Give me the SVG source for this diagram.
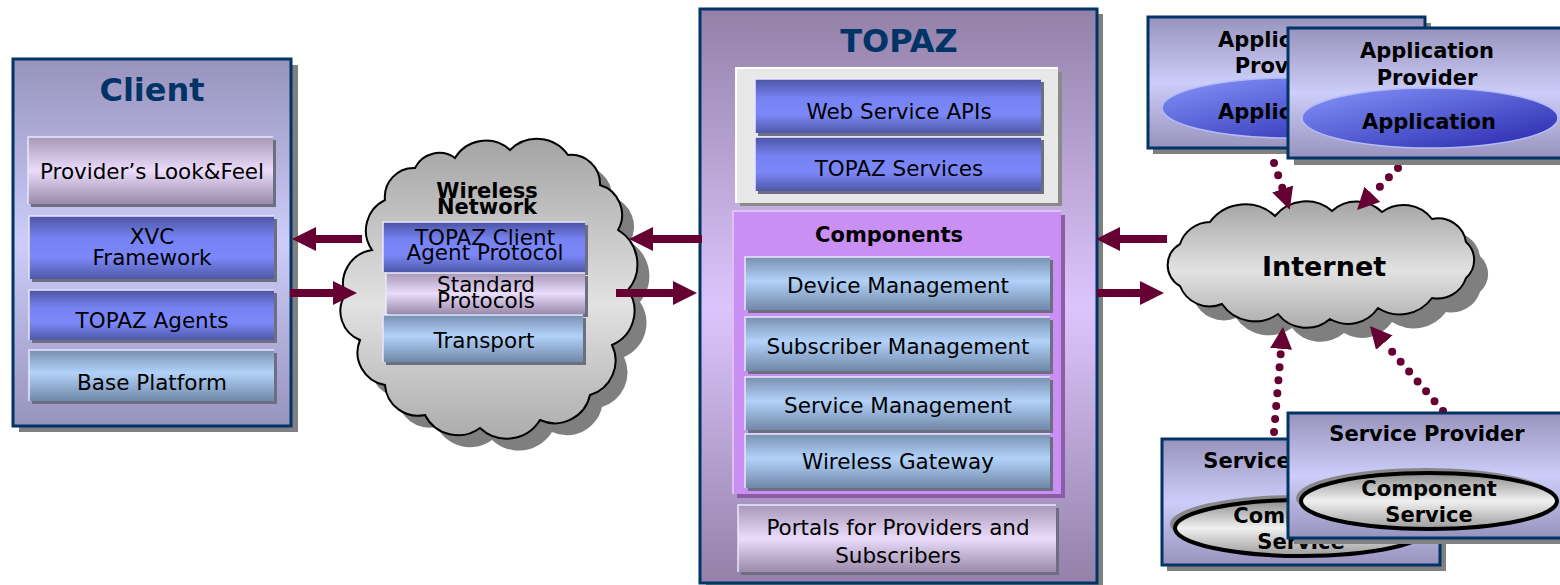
<svg xmlns="http://www.w3.org/2000/svg" width="1560" height="585" viewBox="0 0 1560 585">
<defs>
<linearGradient id="gBox" x1="0" y1="0" x2="0" y2="1"><stop offset="0" stop-color="#9893bd"/><stop offset="0.5" stop-color="#cccdf9"/><stop offset="1" stop-color="#9893bd"/></linearGradient>
<linearGradient id="gTopaz" x1="0" y1="0" x2="0" y2="1"><stop offset="0" stop-color="#9381a9"/><stop offset="0.52" stop-color="#dcc5fc"/><stop offset="1" stop-color="#9381a9"/></linearGradient>
<linearGradient id="gBlue" x1="0" y1="0" x2="0" y2="1"><stop offset="0" stop-color="#4c54a2"/><stop offset="0.35" stop-color="#7682f2"/><stop offset="0.65" stop-color="#7c88fa"/><stop offset="1" stop-color="#4e58a6"/></linearGradient>
<linearGradient id="gMauve" x1="0" y1="0" x2="0" y2="1"><stop offset="0" stop-color="#a797b8"/><stop offset="0.5" stop-color="#eadcfa"/><stop offset="1" stop-color="#9a8aab"/></linearGradient>
<linearGradient id="gLight" x1="0" y1="0" x2="0" y2="1"><stop offset="0" stop-color="#7890b0"/><stop offset="0.45" stop-color="#b2d2fa"/><stop offset="1" stop-color="#7088a8"/></linearGradient>
<linearGradient id="gCloud" x1="0" y1="0" x2="0" y2="1"><stop offset="0" stop-color="#a4a4a4"/><stop offset="0.55" stop-color="#e2e2e2"/><stop offset="1" stop-color="#acacac"/></linearGradient>
<linearGradient id="gApp" x1="0" y1="0" x2="1" y2="1"><stop offset="0" stop-color="#8696fa"/><stop offset="1" stop-color="#2626ac"/></linearGradient>
<linearGradient id="gComp" x1="0" y1="0" x2="0" y2="1"><stop offset="0" stop-color="#8c8c8c"/><stop offset="0.5" stop-color="#f0f0f0"/><stop offset="1" stop-color="#9c9c9c"/></linearGradient>
<marker id="ah" viewBox="0 0 24 24" refX="4" refY="12" markerWidth="24" markerHeight="24" markerUnits="userSpaceOnUse" orient="auto"><path d="M0,0 L24,12 L0,24 z" fill="#660033"/></marker>
<marker id="dh" viewBox="0 0 22 22" refX="0" refY="11" markerWidth="22" markerHeight="22" markerUnits="userSpaceOnUse" orient="auto"><path d="M0,0 L22,11 L0,22 z" fill="#660033"/></marker>
<path id="wcloud" d="M372,250 A34,34 0 0 1 385,200 A29,29 0 0 1 415,168 A27,27 0 0 1 455,158 A36,36 0 0 1 510,150 A38,38 0 0 1 568,155 A29,29 0 0 1 600,185 A31,31 0 0 1 618,230 A40,40 0 0 1 628,290 A37,37 0 0 1 612,345 A36,36 0 0 1 590,395 A36,36 0 0 1 540,420 A39,39 0 0 1 480,428 A37,37 0 0 1 425,415 A33,33 0 0 1 385,385 A33,33 0 0 1 360,340 A31,31 0 0 1 345,295 A34,34 0 0 1 372,250 Z"/>
<path id="icloud" d="M1180,244 A32,32 0 0 1 1210,222 A44,44 0 0 1 1275,216 A40,40 0 0 1 1332,211 A36,36 0 0 1 1382,212 A36,36 0 0 1 1432,219 A28,28 0 0 1 1466,242 A24,24 0 0 1 1466,278 A30,30 0 0 1 1432,298 A40,40 0 0 1 1378,308 A36,36 0 0 1 1330,319 A36,36 0 0 1 1278,314 A40,40 0 0 1 1222,304 A32,32 0 0 1 1180,286 A24,24 0 0 1 1180,244 Z"/>
</defs>
<style>
.t{font-family:"DejaVu Sans",Verdana,sans-serif;font-size:21.5px;fill:#000;text-anchor:middle}
.b{font-weight:bold;font-size:21px}
.ttl{font-weight:bold;font-size:32px;fill:#003366}
.big{font-size:27px}
.outer{stroke:#003366;stroke-width:3}
.sh{fill:#808080}
.bsh{fill:#6e6e82}
.hl{fill:none;stroke:#e8e8ff;stroke-width:1.5}
.arr{stroke:#660033;stroke-width:8;fill:none;marker-end:url(#ah)}
.dot{stroke:#660033;stroke-width:8;fill:none;stroke-dasharray:0 13;stroke-linecap:round;marker-end:url(#dh)}
</style>
<rect width="1560" height="585" fill="#ffffff"/>

<g id="client">
<rect class="sh" x="19" y="65" width="279" height="367"/>
<rect class="outer" x="13" y="59" width="278" height="367" fill="url(#gBox)"/>
<text class="t ttl" x="152" y="101">Client</text>
<g id="client-lookfeel"><rect class="bsh" x="31" y="140" width="245" height="67"/><rect x="28" y="137" width="245" height="67" fill="url(#gMauve)"/><path class="hl" d="M28,204 V137 H273"/><text class="t" x="152" y="179">Provider’s Look&amp;Feel</text></g>
<g id="client-xvc"><rect class="bsh" x="32" y="219" width="245" height="63"/><rect x="29" y="216" width="245" height="63" fill="url(#gBlue)"/><path class="hl" d="M29,279 V216 H274" stroke="#a8b0f8"/><text class="t" x="152" y="244">XVC</text><text class="t" x="152" y="265">Framework</text></g>
<g id="client-agents"><rect class="bsh" x="32" y="293" width="245" height="50"/><rect x="29" y="290" width="245" height="50" fill="url(#gBlue)"/><path class="hl" d="M29,340 V290 H274"/><text class="t" x="152" y="328">TOPAZ Agents</text></g>
<g id="client-base"><rect class="bsh" x="32" y="353" width="245" height="51"/><rect x="29" y="350" width="245" height="51" fill="url(#gLight)"/><path class="hl" d="M29,401 V350 H274"/><text class="t" x="152" y="390">Base Platform</text></g>
</g>

<g id="wireless">
<use href="#wcloud" transform="translate(12,12)" fill="#7f7f7f"/>
<use href="#wcloud" fill="url(#gCloud)" stroke="#000" stroke-width="2"/>
<text class="t b" x="487" y="198">Wireless</text>
<text class="t b" x="487" y="214">Network</text>
<g id="w-agent"><rect class="bsh" x="386" y="225" width="202" height="50"/><rect x="383" y="222" width="202" height="50" fill="url(#gBlue)"/><path class="hl" d="M383,272 V222 H585" stroke="#a8b0f8"/><text class="t" x="485" y="245">TOPAZ Client</text><text class="t" x="485" y="260">Agent Protocol</text></g>
<g id="w-std"><rect class="bsh" x="389" y="276" width="199" height="41"/><rect x="386" y="273" width="199" height="41" fill="url(#gMauve)"/><path class="hl" d="M386,314 V273 H585"/><text class="t" x="486" y="292">Standard</text><text class="t" x="486" y="308">Protocols</text></g>
<g id="w-transport"><rect class="bsh" x="386" y="318" width="200" height="47"/><rect x="383" y="315" width="200" height="47" fill="url(#gLight)"/><path class="hl" d="M383,362 V315 H583"/><text class="t" x="484" y="348">Transport</text></g>
</g>

<g id="topaz">
<rect class="sh" x="706" y="14" width="397" height="575"/>
<rect class="outer" x="700" y="9" width="397" height="574" fill="url(#gTopaz)"/>
<text class="t ttl" x="899" y="52">TOPAZ</text>
<g id="topaz-api-box"><rect x="740" y="72" width="322" height="134" fill="#8a8a8a"/><rect x="736" y="68" width="322" height="135" fill="#e8e8e8"/><path d="M736,203 V68 H1058" fill="none" stroke="#ffffff" stroke-width="2"/></g>
<g id="topaz-ws"><rect class="bsh" x="758" y="82" width="286" height="54"/><rect x="755" y="79" width="286" height="54" fill="url(#gBlue)"/><path class="hl" d="M755,133 V79 H1041" stroke="#a8b0f8"/><text class="t" x="899" y="119">Web Service APIs</text></g>
<g id="topaz-svc"><rect class="bsh" x="758" y="140" width="286" height="54"/><rect x="755" y="137" width="286" height="54" fill="url(#gBlue)"/><path class="hl" d="M755,191 V137 H1041" stroke="#a8b0f8"/><text class="t" x="899" y="176">TOPAZ Services</text></g>
<g id="topaz-components"><rect x="737" y="215" width="328" height="283" fill="#8c5ca8"/><rect x="733" y="211" width="328" height="283" fill="#c98ff3"/><path d="M733,494 V211 H1061" fill="none" stroke="#e0c0fc" stroke-width="2"/><text class="t b" x="889" y="242">Components</text></g>
<g id="topaz-device"><rect class="bsh" x="748" y="260" width="305" height="53"/><rect x="745" y="257" width="305" height="53" fill="url(#gLight)"/><path class="hl" d="M745,310 V257 H1050"/><text class="t" x="898" y="293">Device Management</text></g>
<g id="topaz-subscriber"><rect class="bsh" x="748" y="320" width="305" height="54"/><rect x="745" y="317" width="305" height="54" fill="url(#gLight)"/><path class="hl" d="M745,371 V317 H1050"/><text class="t" x="898" y="354">Subscriber Management</text></g>
<g id="topaz-service"><rect class="bsh" x="748" y="380" width="305" height="53"/><rect x="745" y="377" width="305" height="53" fill="url(#gLight)"/><path class="hl" d="M745,430 V377 H1050"/><text class="t" x="898" y="413">Service Management</text></g>
<g id="topaz-gateway"><rect class="bsh" x="748" y="437" width="305" height="54"/><rect x="745" y="434" width="305" height="54" fill="url(#gLight)"/><path class="hl" d="M745,488 V434 H1050"/><text class="t" x="898" y="469">Wireless Gateway</text></g>
<g id="topaz-portals"><rect class="bsh" x="741" y="508" width="318" height="67"/><rect x="738" y="505" width="318" height="67" fill="url(#gMauve)"/><path class="hl" d="M738,572 V505 H1056" stroke="#ffffff"/><text class="t" x="898" y="535">Portals for Providers and</text><text class="t" x="898" y="563">Subscribers</text></g>
</g>

<g id="internet">
<use href="#icloud" transform="translate(14,14)" fill="#7f7f7f"/>
<use href="#icloud" fill="url(#gCloud)" stroke="#000" stroke-width="2"/>
<text class="t b big" x="1324" y="276">Internet</text>
</g>

<g id="connectors">
<line class="arr" x1="362" y1="239" x2="312" y2="239"/>
<line class="arr" x1="290" y1="293" x2="337" y2="293"/>
<line class="arr" x1="702" y1="239" x2="649" y2="239"/>
<line class="arr" x1="616" y1="293" x2="677" y2="293"/>
<line class="arr" x1="1167" y1="239" x2="1116" y2="239"/>
<line class="arr" x1="1097" y1="293" x2="1144" y2="293"/>
<line class="dot" x1="1274" y1="163" x2="1282.7" y2="188.9"/>
<line class="dot" x1="1398" y1="168" x2="1372.4" y2="194.3"/>
<line class="dot" x1="1274" y1="432" x2="1281.1" y2="348.9"/>
<line class="dot" x1="1443" y1="411" x2="1384.3" y2="342.7"/>
</g>

<g id="app-provider-1">
<rect class="sh" x="1153" y="23" width="278" height="131"/>
<rect class="outer" x="1148" y="17" width="277" height="131" fill="url(#gBox)"/>
<text class="t b" x="1285" y="47">Application</text>
<text class="t b" x="1285" y="73">Provider</text>
<ellipse cx="1290" cy="108" rx="128" ry="30" fill="url(#gApp)" stroke="#b4bcf8" stroke-width="1.5"/>
<text class="t b" x="1285" y="119">Application</text>
</g>
<g id="app-provider-2">
<rect class="sh" x="1294" y="34" width="280" height="131"/>
<rect class="outer" x="1288" y="28" width="285" height="130" fill="url(#gBox)"/>
<text class="t b" x="1427" y="58">Application</text>
<text class="t b" x="1427" y="85">Provider</text>
<ellipse cx="1430" cy="118" rx="128" ry="30" fill="url(#gApp)" stroke="#b4bcf8" stroke-width="1.5"/>
<text class="t b" x="1429" y="129">Application</text>
</g>

<g id="service-provider-1">
<rect class="sh" x="1167" y="445" width="279" height="126"/>
<rect class="outer" x="1162" y="439" width="278" height="126" fill="url(#gBox)"/>
<text class="t b" x="1301" y="468">Service Provider</text>
<ellipse cx="1298" cy="524" rx="128" ry="29" fill="#888"/>
<ellipse cx="1302" cy="528" rx="127" ry="28" fill="url(#gComp)" stroke="#000" stroke-width="4"/>
<text class="t b" x="1301" y="523">Component</text>
<text class="t b" x="1301" y="549">Service</text>
</g>
<g id="service-provider-2">
<rect class="sh" x="1294" y="419" width="280" height="125"/>
<rect class="outer" x="1288" y="413" width="285" height="125" fill="url(#gBox)"/>
<text class="t b" x="1427" y="441">Service Provider</text>
<ellipse cx="1425" cy="498" rx="129" ry="30" fill="#888"/>
<ellipse cx="1429" cy="501" rx="128" ry="28" fill="url(#gComp)" stroke="#000" stroke-width="4"/>
<text class="t b" x="1429" y="496">Component</text>
<text class="t b" x="1429" y="522">Service</text>
</g>
</svg>
